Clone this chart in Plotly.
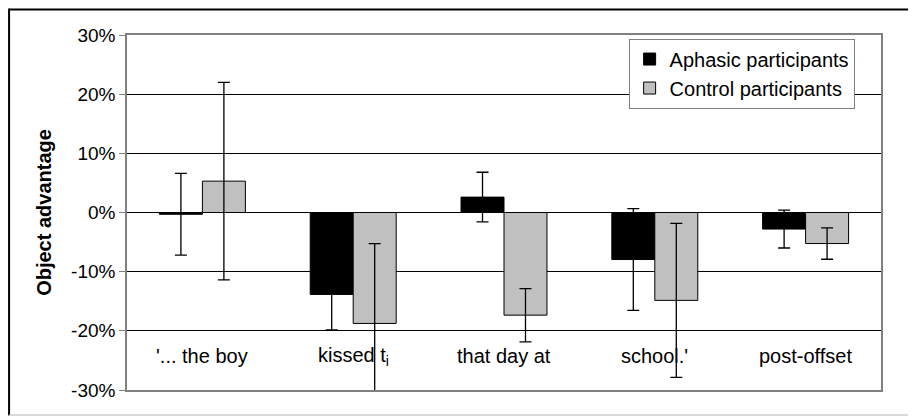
import plotly.graph_objects as go

categories = ["'... the boy", "kissed t<sub>i</sub>", "that day at", "school.'", "post-offset"]
aphasic = [-0.3, -13.85, 2.6, -7.95, -2.8]
aphasic_err = [6.9, 6.0, 4.2, 8.6, 3.2]
control = [5.3, -18.75, -17.35, -14.85, -5.25]
control_err = [16.7, 13.5, 4.5, 13.0, 2.65]
tick_vals = [-30, -20, -10, 0, 10, 20, 30]
tick_text = ["-30%", "-20%", "-10%", "0%", "10%", "20%", "30%"]

FONT = "Liberation Sans, Arial, sans-serif"

fig = go.Figure()
fig.add_trace(go.Bar(
    name="Aphasic participants", x=categories, y=aphasic,
    marker=dict(color="#000000", line=dict(color="#000000", width=1)),
    error_y=dict(type="data", array=aphasic_err, color="#000000", thickness=1.3, width=6),
))
fig.add_trace(go.Bar(
    name="Control participants", x=categories, y=control,
    marker=dict(color="#C0C0C0", line=dict(color="#000000", width=1)),
    error_y=dict(type="data", array=control_err, color="#000000", thickness=1.3, width=6),
))

for c in categories:
    fig.add_annotation(x=c, y=-24.3, xref="x", yref="y", text=c, showarrow=False,
                       font=dict(family=FONT, size=20, color="#000"))

# outer chart frame
fig.add_shape(type="line", xref="paper", yref="paper", x0=-0.1564, x1=1.06, y0=1.0717, y1=1.0717,
              line=dict(color="#000", width=2))
fig.add_shape(type="line", xref="paper", yref="paper", x0=-0.1564, x1=-0.1564, y0=-0.072, y1=1.0745,
              line=dict(color="#000", width=2))
fig.add_shape(type="line", xref="paper", yref="paper", x0=-0.1564, x1=1.06, y0=-0.0705, y1=-0.0705,
              line=dict(color="#cccccc", width=1.5))

fig.update_layout(
    width=908, height=408,
    margin=dict(l=119, r=34.5, t=26.5, b=26, autoexpand=False),
    paper_bgcolor="white", plot_bgcolor="white",
    barmode="group", bargap=0.43, bargroupgap=0,
    font=dict(family=FONT, size=20, color="#000"),
    showlegend=True,
    legend=dict(x=0.965, y=0.99, xanchor="right", yanchor="top",
                bgcolor="white", bordercolor="#808080", borderwidth=1,
                font=dict(family=FONT, size=20, color="#000"),
                itemwidth=30, tracegroupgap=0),
    xaxis=dict(showticklabels=False, ticks="", showgrid=False, zeroline=False,
               showline=True, linecolor="#808080", linewidth=1.5, mirror=True),
    yaxis=dict(range=[-30, 30], tickvals=tick_vals, ticktext=tick_text,
               showgrid=True, gridcolor="#000", gridwidth=1, zeroline=False,
               showline=True, linecolor="#808080", linewidth=1.5, mirror=True,
               ticks="outside", ticklen=6, tickcolor="#808080",
               tickfont=dict(family=FONT, size=19, color="#000"),
               title=dict(text="<b>Object advantage</b>", standoff=14,
                          font=dict(family=FONT, size=20, color="#000"))),
)

fig.write_html("out.html")
